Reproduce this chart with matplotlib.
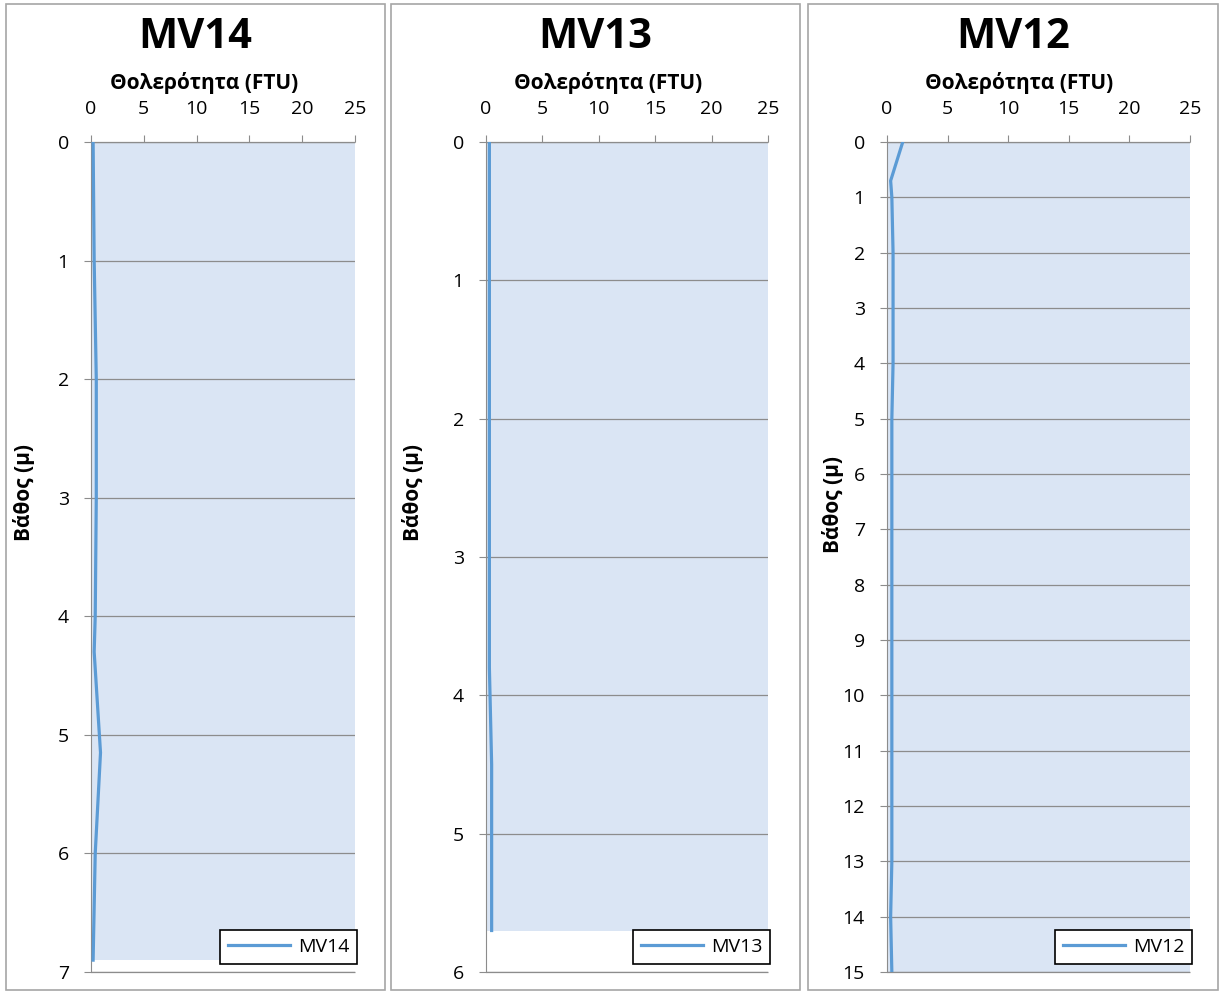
import numpy as np
import matplotlib.pyplot as plt
from matplotlib.patches import Rectangle

plt.rcParams['font.family'] = ['Open Sans', 'DejaVu Sans']

# DATA (depth in m, turbidity in FTU)
mv14_depth = [0, 1, 2, 3, 4, 4.3, 5.15, 6, 6.9]
mv14_ftu = [0.2, 0.3, 0.5, 0.5, 0.4, 0.3, 0.9, 0.4, 0.2]

mv13_depth = [0, 1, 2, 3, 3.8, 4.5, 5, 5.7]
mv13_ftu = [0.3, 0.3, 0.3, 0.3, 0.3, 0.5, 0.5, 0.5]

mv12_depth = [0, 0.7, 1, 2, 3, 4, 5, 6, 7, 8, 9, 10, 11, 12, 13, 14, 15]
mv12_ftu = [1.3, 0.3, 0.4, 0.5, 0.5, 0.5, 0.4, 0.4, 0.4, 0.4, 0.4, 0.4, 0.4, 0.4, 0.4, 0.3, 0.4]

names = ['MV14', 'MV13', 'MV12']
depths = [mv14_depth, mv13_depth, mv12_depth]
values = [mv14_ftu, mv13_ftu, mv12_ftu]
ymax = [7, 6, 15]

W, H = 1225, 994
# axes boxes in pixels: left, right
boxes = [(91, 355), (486, 768), (887, 1190)]
panels = [(6, 385), (391, 800), (808, 1218)]
ylab_x = [24, 413, 833]
ylab_y = [493, 493, 505]
top_px, bot_px = 142, 972

LINE = '#5b9bd5'
FILL = '#dae5f4'
GRID = '#8c8c8c'

fig = plt.figure(figsize=(W / 100, H / 100), dpi=100)

for (pl, pr) in panels:
    fig.patches.append(Rectangle((pl / W, 1 - 990 / H), (pr - pl) / W, (990 - 4) / H,
                                 transform=fig.transFigure, fill=False,
                                 edgecolor='#a6a6a6', lw=1.2))

for i in range(3):
    l, r = boxes[i]
    w = r - l
    hgt = bot_px - top_px
    ax = fig.add_axes([l / W, 1 - bot_px / H, w / W, hgt / H])
    d = depths[i]
    v = values[i]
    ax.fill_betweenx([0, max(d)], 0, 25, color=FILL, lw=0, zorder=0)
    ax.plot(v, d, color=LINE, lw=2.3, label=names[i], zorder=3)
    ax.set_xlim(0, 25)
    ax.set_ylim(ymax[i], 0)
    ax.set_xticks(np.arange(0, 26, 5))
    ax.set_yticks(np.arange(0, ymax[i] + 1, 1))
    ax.xaxis.tick_top()
    ax.xaxis.set_label_position('top')
    ax.grid(axis='y', color=GRID, lw=0.9)
    ax.hlines([0, ymax[i]], 0, 25, color=GRID, lw=0.9, clip_on=False, zorder=2)
    ax.set_axisbelow(False)
    for s in ['top', 'right', 'bottom']:
        ax.spines[s].set_visible(False)
    ax.spines['left'].set_color(GRID)
    ax.tick_params(axis='both', colors=GRID, labelcolor='black', labelsize=14, length=5)
    ax.tick_params(axis='y', pad=11)
    ax.tick_params(axis='x', pad=12)
    xl = ax.set_xlabel('Θολερότητα (FTU)', fontsize=15, fontweight='bold')
    xl.set_va('center')
    ax.xaxis.set_label_coords(0.5 - 19 / w, (bot_px - 83) / hgt)
    yl = ax.set_ylabel('Βάθος (μ)', fontsize=15, fontweight='bold')
    yl.set_va('center')
    ax.yaxis.set_label_coords((ylab_x[i] - l) / w, (bot_px - ylab_y[i]) / hgt)
    leg = ax.legend(loc='lower right', fontsize=14, fancybox=False, framealpha=1,
                    edgecolor='black', handlelength=3.2, handletextpad=0.4,
                    borderaxespad=0, bbox_to_anchor=(1 + 2 / w, 8 / hgt))
    leg.get_frame().set_linewidth(1.2)
    fig.text((panels[i][0] + panels[i][1]) / 2 / W, 1 - 38 / H, names[i],
             ha='center', va='center', fontsize=30, fontweight='bold')

fig.savefig('out.png', dpi=100)
